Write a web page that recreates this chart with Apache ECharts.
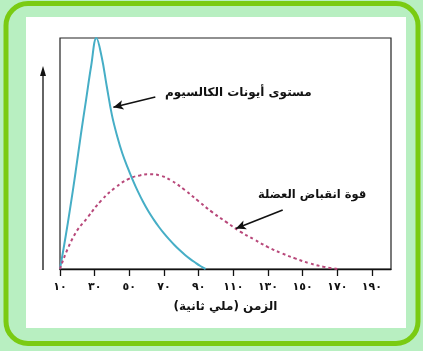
<!DOCTYPE html>
<html>
<head>
<meta charset="utf-8">
<style>
  html, body { margin: 0; padding: 0; background: #b8efc1; }
  #chart { width: 423px; height: 351px; }
</style>
<script src="https://cdn.jsdelivr.net/npm/echarts@6/dist/echarts.min.js"></script>
</head>
<body>
<div id="chart"></div>
<script>
// time in ms (x) / relative level (y)
const calciumTime = [10, 13, 16, 19, 22, 25, 28, 31, 34, 37, 40, 43, 46, 49, 52, 55, 58, 61, 64, 67, 70, 73, 76, 79, 82, 85, 88, 91, 94];
const calciumLevel = [0, 13, 27, 42, 58, 73, 88, 100, 92, 79, 66.5, 57.5, 50, 44, 38.5, 33.5, 29, 25, 21.5, 18.3, 15.4, 12.8, 10.4, 8.2, 6.2, 4.4, 2.8, 1.3, 0];

const forceTime = [10, 18, 26, 34, 42, 50, 56, 62, 68, 74, 82, 90, 98, 106, 114, 122, 130, 138, 146, 154, 162, 170];
const forceLevel = [0, 14.3, 22.4, 29.8, 35.3, 39.1, 40.5, 41, 40.4, 38.4, 34.2, 29.3, 24.5, 20.3, 16.2, 12.8, 9.5, 6.8, 4.5, 2.5, 1, 0];

const tickValues = [10, 30, 50, 70, 90, 110, 130, 150, 170, 190];
const tickLabels = ['١٠', '٣٠', '٥٠', '٧٠', '٩٠', '١١٠', '١٣٠', '١٥٠', '١٧٠', '١٩٠'];

const calciumName = 'مستوى أيونات الكالسيوم';
const forceName = 'قوة انقباض العضلة';
const xName = 'الزمن (ملي ثانية)';

const font = 'DejaVu Sans';

const chart = echarts.init(document.getElementById('chart'));

const arrowLine = (from, to) => ({
  silent: true,
  symbol: ['none', 'arrow'],
  symbolSize: [7, 10],
  label: { show: false },
  lineStyle: { color: '#111', width: 1.6, type: 'solid' },
  data: [[{ coord: from }, { coord: to }]]
});

chart.setOption({
  animation: false,
  backgroundColor: '#b8efc1',
  graphic: [
    {
      type: 'rect', z: -10,
      shape: { x: 6, y: 3.5, width: 412, height: 340, r: 22 },
      style: { fill: '#b8efc1', stroke: '#7acb12', lineWidth: 5 }
    },
    {
      type: 'rect', z: -9,
      shape: { x: 26, y: 17, width: 380, height: 311 },
      style: { fill: '#ffffff' }
    },
    {
      type: 'line',
      shape: { x1: 43, y1: 270, x2: 43, y2: 74 },
      style: { stroke: '#111', lineWidth: 1.3 }
    },
    {
      type: 'polygon',
      shape: { points: [[43, 66], [40, 76], [46, 76]] },
      style: { fill: '#111' }
    },
    {
      type: 'text', left: 165, top: 87,
      style: { text: calciumName, font: 'bold 12px "DejaVu Sans"', fill: '#111' }
    },
    {
      type: 'text', left: 258, top: 189,
      style: { text: forceName, font: 'bold 11.5px "DejaVu Sans"', fill: '#111' }
    }
  ],
  grid: {
    left: 60, right: 32, top: 38, bottom: 82,
    show: true, borderColor: '#222', borderWidth: 1.2, backgroundColor: 'transparent'
  },
  xAxis: {
    type: 'value',
    min: 10,
    max: 201,
    name: xName,
    nameLocation: 'middle',
    nameGap: 32,
    nameTextStyle: { fontFamily: font, fontSize: 12, fontWeight: 'bold', color: '#111' },
    axisLine: { lineStyle: { color: '#111', width: 1.3 } },
    axisTick: { customValues: tickValues, length: 7, inside: false, lineStyle: { color: '#111', width: 1.3 } },
    axisLabel: {
      customValues: tickValues,
      margin: 13,
      fontFamily: font,
      fontSize: 11,
      fontWeight: 'bold',
      color: '#111',
      formatter: (v) => tickLabels[tickValues.indexOf(v)] || ''
    },
    splitLine: { show: false }
  },
  yAxis: {
    type: 'value',
    min: 0,
    max: 100,
    show: false
  },
  series: [
    {
      name: calciumName,
      type: 'line',
      smooth: 0.4,
      showSymbol: false,
      data: calciumTime.map((t, i) => [t, calciumLevel[i]]),
      lineStyle: { color: '#46aec6', width: 2 },
      markLine: arrowLine([65, 74.5], [40.8, 70])
    },
    {
      name: forceName,
      type: 'line',
      smooth: 0.5,
      showSymbol: false,
      data: forceTime.map((t, i) => [t, forceLevel[i]]),
      lineStyle: { color: '#b8487a', width: 2, type: [3, 3] },
      markLine: arrowLine([138.5, 25.5], [111.5, 17.5])
    }
  ]
});
</script>
</body>
</html>
